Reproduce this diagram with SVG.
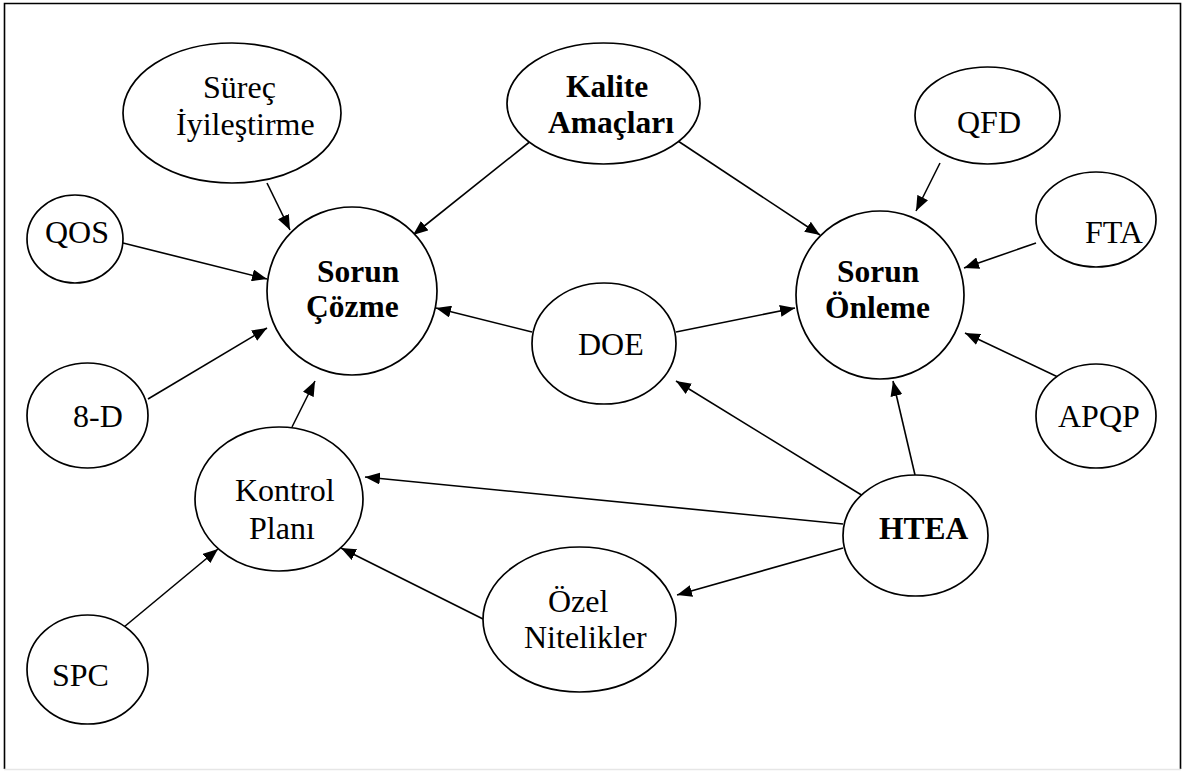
<svg xmlns="http://www.w3.org/2000/svg" width="1184" height="771" viewBox="0 0 1184 771">
  <style>
    .node { fill: #ffffff; stroke: #000000; stroke-width: 1.7; }
    .lbl { font-family: "Liberation Serif", "Times New Roman", serif; font-size: 32px; fill: #000000; }
    .bold { font-weight: bold; font-size: 31.5px; }
    .edge { stroke: #000000; stroke-width: 1.6; fill: none; marker-end: url(#arrow); }
  </style>
  <defs>
    <marker id="arrow" markerUnits="userSpaceOnUse" markerWidth="16" markerHeight="12" refX="15" refY="6" orient="auto">
      <path d="M0,0 L15,6 L0,12 z" fill="#000000"/>
    </marker>
  </defs>

  <rect x="0" y="0" width="1184" height="771" fill="#ffffff"/>
  <!-- outer frame -->
  <g id="frame" stroke="#000000" stroke-width="1.6" fill="none">
    <path d="M4.5,769 L4.5,3.5 L1180.5,3.5 L1180.5,769"/>
    <line x1="4" y1="769.5" x2="1181" y2="769.5" stroke="#e6e6e6"/>
  </g>

  <!-- connectors -->
  <g id="connectors">
    <line class="edge" x1="267" y1="183" x2="290" y2="230"/>
    <line class="edge" x1="532" y1="140" x2="413" y2="235"/>
    <line class="edge" x1="678" y1="141" x2="820" y2="235"/>
    <line class="edge" x1="940" y1="163" x2="916" y2="211"/>
    <line class="edge" x1="1036" y1="243" x2="964" y2="268"/>
    <line class="edge" x1="1060" y1="378" x2="965" y2="333"/>
    <line class="edge" x1="123" y1="243" x2="267" y2="279"/>
    <line class="edge" x1="148" y1="399" x2="267" y2="328"/>
    <line class="edge" x1="292" y1="427" x2="315" y2="381"/>
    <line class="edge" x1="532" y1="332" x2="436" y2="308"/>
    <line class="edge" x1="676" y1="332" x2="795" y2="308"/>
    <line class="edge" x1="868" y1="499" x2="676" y2="381"/>
    <line class="edge" x1="915" y1="475" x2="893" y2="381"/>
    <line class="edge" x1="843" y1="524" x2="365" y2="477"/>
    <line class="edge" x1="843" y1="548" x2="677" y2="595"/>
    <line class="edge" x1="483" y1="619" x2="341" y2="548"/>
    <line class="edge" x1="124" y1="627" x2="218" y2="549"/>
  </g>

  <g id="surec-iyilestirme">
    <ellipse class="node" cx="232" cy="113" rx="109" ry="70"/>
    <text class="lbl" x="203" y="98">Süreç</text>
    <text class="lbl" x="176" y="135">İyileştirme</text>
  </g>

  <g id="kalite-amaclari">
    <ellipse class="node" cx="603.5" cy="103.5" rx="96.5" ry="60.5"/>
    <text class="lbl bold" x="566" y="97">Kalite</text>
    <text class="lbl bold" x="548" y="133">Amaçları</text>
  </g>

  <g id="qfd">
    <ellipse class="node" cx="987.5" cy="115.5" rx="72.5" ry="48.5"/>
    <text class="lbl" x="957" y="133">QFD</text>
  </g>

  <g id="fta">
    <ellipse class="node" cx="1096" cy="219.5" rx="60" ry="47.5"/>
    <text class="lbl" x="1085" y="243">FTA</text>
  </g>

  <g id="qos">
    <ellipse class="node" cx="75" cy="239" rx="48" ry="44"/>
    <text class="lbl" x="45" y="243">QOS</text>
  </g>

  <g id="sorun-cozme">
    <ellipse class="node" cx="352" cy="291" rx="85" ry="84"/>
    <text class="lbl bold" x="317" y="282">Sorun</text>
    <text class="lbl bold" x="306" y="317">Çözme</text>
  </g>

  <g id="sorun-onleme">
    <ellipse class="node" cx="880" cy="295" rx="84" ry="84"/>
    <text class="lbl bold" x="837" y="282">Sorun</text>
    <text class="lbl bold" x="825" y="318">Önleme</text>
  </g>

  <g id="doe">
    <ellipse class="node" cx="604" cy="343.5" rx="72" ry="60.5"/>
    <text class="lbl" x="578" y="355">DOE</text>
  </g>

  <g id="sekiz-d">
    <ellipse class="node" cx="87.5" cy="415.5" rx="60.5" ry="52.5"/>
    <text class="lbl" x="73" y="427">8-D</text>
  </g>

  <g id="apqp">
    <ellipse class="node" cx="1096" cy="416" rx="60" ry="52"/>
    <text class="lbl" x="1058" y="427">APQP</text>
  </g>

  <g id="kontrol-plani">
    <ellipse class="node" cx="279" cy="499" rx="84" ry="72"/>
    <text class="lbl" x="235" y="501">Kontrol</text>
    <text class="lbl" x="249" y="539">Planı</text>
  </g>

  <g id="htea">
    <ellipse class="node" cx="915.5" cy="535.5" rx="72.5" ry="60.5"/>
    <text class="lbl bold" x="879" y="539">HTEA</text>
  </g>

  <g id="spc">
    <ellipse class="node" cx="87.5" cy="669.5" rx="60.5" ry="54.5"/>
    <text class="lbl" x="52" y="686">SPC</text>
  </g>

  <g id="ozel-nitelikler">
    <ellipse class="node" cx="579.5" cy="619.5" rx="96.5" ry="72.5"/>
    <text class="lbl" x="548" y="612">Özel</text>
    <text class="lbl" x="524" y="648">Nitelikler</text>
  </g>
</svg>
